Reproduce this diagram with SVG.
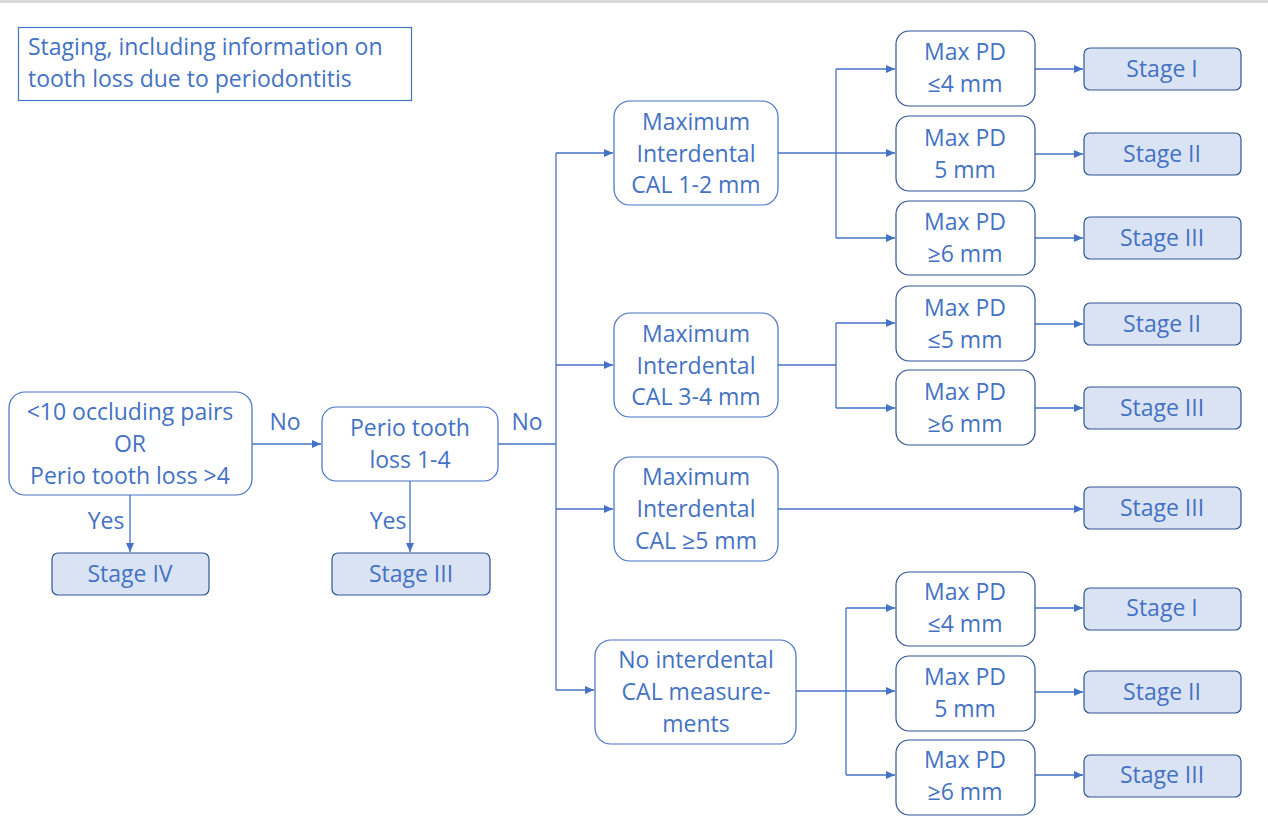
<svg xmlns="http://www.w3.org/2000/svg" width="1268" height="822" viewBox="0 0 1268 822">
<style>
text{font-family:"Open Sans","Noto Sans",Lato,sans-serif;font-size:23px;fill:#4472c4;text-anchor:middle;dominant-baseline:central}
.q{fill:#fff;stroke:#4472c4;stroke-width:1.2}
.p{fill:#fff;stroke:#2f5597;stroke-width:1.2}
.s{fill:#dae3f3;stroke:#2f5597;stroke-width:1.2}
.c{fill:none;stroke:#4472c4;stroke-width:1.3}
.lbl{text-anchor:start}
</style>
<defs>
<marker id="ah" markerWidth="10" markerHeight="8" refX="9" refY="4" orient="auto" markerUnits="userSpaceOnUse">
<path d="M0,0 L9,4 L0,8 Z" fill="#4472c4"/>
</marker>
</defs>
<rect x="0" y="0" width="1268" height="3" fill="#d9d9d9"/>
<g id="title">
<rect x="18.5" y="27.5" width="393" height="73" fill="#fff" stroke="#4472c4" stroke-width="1.2"/>
<text class="lbl" x="28" y="46">Staging, including information on</text>
<text class="lbl" x="28" y="78">tooth loss due to periodontitis</text>
</g>
<g id="connectors">
<path class="c" d="M130,495 V552" marker-end="url(#ah)"/>
<path class="c" d="M410,481 V552" marker-end="url(#ah)"/>
<path class="c" d="M252,444 H321" marker-end="url(#ah)"/>
<path class="c" d="M498,444 H556"/>
<path class="c" d="M556,153 V690"/>
<path class="c" d="M556,153 H613" marker-end="url(#ah)"/>
<path class="c" d="M556,365 H613" marker-end="url(#ah)"/>
<path class="c" d="M556,509 H613" marker-end="url(#ah)"/>
<path class="c" d="M556,690 H594" marker-end="url(#ah)"/>
<path class="c" d="M778,153 H895" marker-end="url(#ah)"/>
<path class="c" d="M836,69 V238"/>
<path class="c" d="M836,69 H895" marker-end="url(#ah)"/>
<path class="c" d="M836,238 H895" marker-end="url(#ah)"/>
<path class="c" d="M778,365 H836"/>
<path class="c" d="M836,323 V408"/>
<path class="c" d="M836,323 H895" marker-end="url(#ah)"/>
<path class="c" d="M836,408 H895" marker-end="url(#ah)"/>
<path class="c" d="M778,509 H1083" marker-end="url(#ah)"/>
<path class="c" d="M796,691 H895" marker-end="url(#ah)"/>
<path class="c" d="M846,608 V775"/>
<path class="c" d="M846,608 H895" marker-end="url(#ah)"/>
<path class="c" d="M846,775 H895" marker-end="url(#ah)"/>
<path class="c" d="M1035,69 H1083" marker-end="url(#ah)"/>
<path class="c" d="M1035,154 H1083" marker-end="url(#ah)"/>
<path class="c" d="M1035,238 H1083" marker-end="url(#ah)"/>
<path class="c" d="M1035,324 H1083" marker-end="url(#ah)"/>
<path class="c" d="M1035,408 H1083" marker-end="url(#ah)"/>
<path class="c" d="M1035,608 H1083" marker-end="url(#ah)"/>
<path class="c" d="M1035,692 H1083" marker-end="url(#ah)"/>
<path class="c" d="M1035,775 H1083" marker-end="url(#ah)"/>
<text x="106" y="520">Yes</text>
<text x="388" y="520">Yes</text>
<text x="285" y="421">No</text>
<text x="527" y="421">No</text>
</g>
<g id="n1">
<rect class="q" x="9" y="392" width="243" height="103" rx="16"/>
<text x="130" y="411">&lt;10 occluding pairs</text>
<text x="130" y="443">OR</text>
<text x="130" y="475">Perio tooth loss &gt;4</text>
</g>
<g id="stage4">
<rect class="s" x="52" y="553" width="157" height="42" rx="6"/>
<text x="130" y="573">Stage IV</text>
</g>
<g id="n2">
<rect class="q" x="322" y="407" width="176" height="74" rx="14"/>
<text x="410" y="427">Perio tooth</text>
<text x="410" y="459">loss 1-4</text>
</g>
<g id="stage3a">
<rect class="s" x="332" y="553" width="158" height="42" rx="6"/>
<text x="411" y="573">Stage III</text>
</g>
<g id="cal12">
<rect class="q" x="614" y="101" width="164" height="104" rx="16"/>
<text x="696" y="121">Maximum</text>
<text x="696" y="153">Interdental</text>
<text x="696" y="184">CAL 1-2 mm</text>
</g>
<g id="cal34">
<rect class="q" x="614" y="313" width="164" height="104" rx="16"/>
<text x="696" y="333">Maximum</text>
<text x="696" y="365">Interdental</text>
<text x="696" y="396">CAL 3-4 mm</text>
</g>
<g id="cal5">
<rect class="q" x="614" y="457" width="164" height="104" rx="16"/>
<text x="696" y="476">Maximum</text>
<text x="696" y="508">Interdental</text>
<text x="696" y="540">CAL ≥5 mm</text>
</g>
<g id="nocal">
<rect class="q" x="595" y="640" width="201" height="104" rx="16"/>
<text x="696" y="659">No interdental</text>
<text x="696" y="691">CAL measure-</text>
<text x="696" y="723">ments</text>
</g>
<g id="pd1a">
<rect class="p" x="896" y="31" width="139" height="75" rx="13"/>
<text x="965" y="51">Max PD</text>
<text x="965" y="83">≤4 mm</text>
</g>
<g id="pd2a">
<rect class="p" x="896" y="116" width="139" height="75" rx="13"/>
<text x="965" y="137">Max PD</text>
<text x="965" y="169">5 mm</text>
</g>
<g id="pd3a">
<rect class="p" x="896" y="201" width="139" height="74" rx="13"/>
<text x="965" y="221">Max PD</text>
<text x="965" y="253">≥6 mm</text>
</g>
<g id="pd1b">
<rect class="p" x="896" y="286" width="139" height="75" rx="13"/>
<text x="965" y="307">Max PD</text>
<text x="965" y="339">≤5 mm</text>
</g>
<g id="pd2b">
<rect class="p" x="896" y="370" width="139" height="75" rx="13"/>
<text x="965" y="391">Max PD</text>
<text x="965" y="423">≥6 mm</text>
</g>
<g id="pd1c">
<rect class="p" x="896" y="572" width="139" height="74" rx="13"/>
<text x="965" y="591">Max PD</text>
<text x="965" y="623">≤4 mm</text>
</g>
<g id="pd2c">
<rect class="p" x="896" y="656" width="139" height="75" rx="13"/>
<text x="965" y="676">Max PD</text>
<text x="965" y="708">5 mm</text>
</g>
<g id="pd3c">
<rect class="p" x="896" y="740" width="139" height="75" rx="13"/>
<text x="965" y="759">Max PD</text>
<text x="965" y="791">≥6 mm</text>
</g>
<g id="s1a"><rect class="s" x="1084" y="48" width="157" height="42" rx="6"/><text x="1162" y="68">Stage I</text></g>
<g id="s2a"><rect class="s" x="1084" y="133" width="157" height="42" rx="6"/><text x="1162" y="153">Stage II</text></g>
<g id="s3a"><rect class="s" x="1084" y="217" width="157" height="42" rx="6"/><text x="1162" y="237">Stage III</text></g>
<g id="s2b"><rect class="s" x="1084" y="303" width="157" height="42" rx="6"/><text x="1162" y="323">Stage II</text></g>
<g id="s3b"><rect class="s" x="1084" y="387" width="157" height="42" rx="6"/><text x="1162" y="407">Stage III</text></g>
<g id="s3c"><rect class="s" x="1084" y="487" width="157" height="42" rx="6"/><text x="1162" y="507">Stage III</text></g>
<g id="s1c"><rect class="s" x="1084" y="588" width="157" height="42" rx="6"/><text x="1162" y="607">Stage I</text></g>
<g id="s2c"><rect class="s" x="1084" y="671" width="157" height="42" rx="6"/><text x="1162" y="691">Stage II</text></g>
<g id="s3d"><rect class="s" x="1084" y="755" width="157" height="42" rx="6"/><text x="1162" y="774">Stage III</text></g>
</svg>
